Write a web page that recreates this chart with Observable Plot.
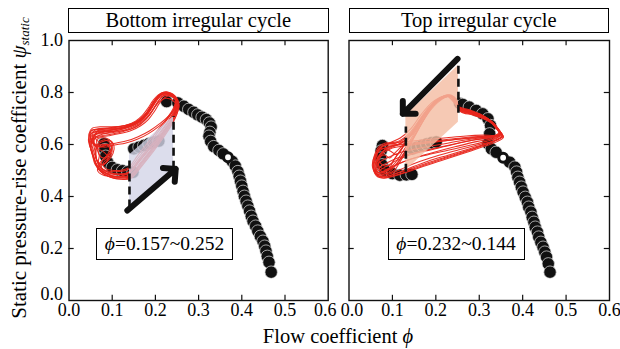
<!DOCTYPE html>
<html><head><meta charset="utf-8">
<script src="https://cdn.jsdelivr.net/npm/d3@7"></script>
<script src="https://cdn.jsdelivr.net/npm/@observablehq/plot@0.6"></script>
<style>
body{margin:0;background:#fff;}
#chart{position:relative;width:620px;height:349px;font-family:"Liberation Serif","Times New Roman",serif;color:#000;overflow:hidden;}
.pl{position:absolute;top:0;}
.pl svg, .pl svg text{font-family:"Liberation Serif","Times New Roman",serif !important;}
.box{position:absolute;border:1.5px solid #000;box-sizing:border-box;display:flex;align-items:center;justify-content:center;background:#fff;white-space:nowrap;line-height:1;}
.ttl{position:absolute;white-space:nowrap;line-height:1;}
</style></head><body><div id="chart"></div>
<script>
// ---------- data ----------
const xTicks = [0, 0.1, 0.2, 0.3, 0.4, 0.5, 0.6];
const yTicks = [0, 0.2, 0.4, 0.6, 0.8, 1.0];
const panelTitles = ["Bottom irregular cycle", "Top irregular cycle"];
const rangeLabels = ["0.157~0.252", "0.232~0.144"];
const xTitle = "Flow coefficient ";
const yTitle = "Static pressure-rise coefficient ";

// Bottom irregular cycle: characteristic curve (phi, psi)
const bottomCurve = [[0.226,0.765],[0.252,0.760],[0.266,0.747],[0.277,0.735],[0.289,0.724],[0.298,0.714],[0.308,0.705],[0.318,0.696],[0.325,0.683],[0.329,0.667],[0.326,0.647],[0.324,0.632],[0.328,0.612],[0.335,0.592],[0.347,0.577],[0.357,0.564],[0.378,0.535],[0.385,0.517],[0.391,0.496],[0.394,0.478],[0.397,0.459],[0.400,0.440],[0.403,0.420],[0.406,0.401],[0.410,0.382],[0.414,0.363],[0.418,0.344],[0.422,0.324],[0.426,0.305],[0.432,0.286],[0.437,0.267],[0.443,0.247],[0.449,0.228],[0.453,0.209],[0.456,0.190],[0.459,0.170],[0.463,0.147],[0.468,0.109]];
const bottomOpen = [[0.368,0.551]];
const bottomCluster = [[0.081,0.603],[0.083,0.580],[0.085,0.555],[0.090,0.530],[0.100,0.512],[0.112,0.503],[0.124,0.499],[0.136,0.495]];
const bottomInner = [[0.148,0.493],[0.150,0.583],[0.162,0.590],[0.173,0.596],[0.185,0.603],[0.196,0.609],[0.208,0.613]];
const bottomLoops = [
 [[0.140,0.492],[0.165,0.540],[0.190,0.590],[0.214,0.640],[0.235,0.690],[0.247,0.730],[0.250,0.765],[0.240,0.790],[0.224,0.798],[0.209,0.789],[0.197,0.766],[0.186,0.736],[0.173,0.707],[0.157,0.685],[0.134,0.668],[0.108,0.659],[0.082,0.654],[0.062,0.650],[0.054,0.640],[0.056,0.610],[0.060,0.575],[0.064,0.540],[0.074,0.510],[0.092,0.492],[0.116,0.486]],
 [[0.143,0.478],[0.168,0.525],[0.193,0.578],[0.216,0.630],[0.236,0.682],[0.249,0.724],[0.253,0.760],[0.244,0.788],[0.228,0.802],[0.212,0.796],[0.200,0.774],[0.189,0.744],[0.176,0.714],[0.160,0.692],[0.138,0.677],[0.112,0.668],[0.086,0.663],[0.064,0.660],[0.051,0.652],[0.049,0.622],[0.053,0.585],[0.058,0.548],[0.066,0.512],[0.082,0.484],[0.108,0.472],[0.128,0.472]],
 [[0.138,0.505],[0.162,0.553],[0.186,0.603],[0.208,0.652],[0.228,0.698],[0.242,0.735],[0.247,0.770],[0.236,0.792],[0.220,0.795],[0.206,0.783],[0.194,0.759],[0.182,0.728],[0.168,0.700],[0.150,0.680],[0.126,0.665],[0.100,0.655],[0.076,0.648],[0.060,0.640],[0.056,0.618],[0.062,0.596],[0.072,0.590],[0.086,0.602],[0.094,0.585],[0.088,0.558],[0.076,0.535],[0.076,0.510],[0.090,0.498],[0.114,0.496]],
 [[0.142,0.485],[0.166,0.532],[0.191,0.583],[0.213,0.634],[0.233,0.684],[0.246,0.726],[0.251,0.758],[0.243,0.785],[0.229,0.796],[0.214,0.791],[0.203,0.770],[0.192,0.741],[0.180,0.712],[0.165,0.688],[0.146,0.672],[0.122,0.662],[0.097,0.657],[0.072,0.656],[0.056,0.657],[0.048,0.645],[0.052,0.615],[0.062,0.590],[0.070,0.560],[0.068,0.530],[0.078,0.500],[0.098,0.480],[0.122,0.476]],
 [[0.088,0.600],[0.110,0.606],[0.136,0.615],[0.160,0.630],[0.186,0.652],[0.210,0.680],[0.232,0.712],[0.246,0.745],[0.248,0.775],[0.236,0.795],[0.220,0.800],[0.206,0.790],[0.194,0.768],[0.183,0.740],[0.170,0.712],[0.154,0.690],[0.132,0.674],[0.106,0.665],[0.080,0.660],[0.060,0.655],[0.050,0.635],[0.054,0.610],[0.066,0.598]],
 [[0.141,0.498],[0.164,0.548],[0.188,0.598],[0.211,0.648],[0.231,0.694],[0.244,0.732],[0.249,0.762],[0.238,0.784],[0.222,0.790],[0.208,0.778],[0.196,0.752],[0.184,0.722],[0.170,0.696],[0.152,0.677],[0.128,0.662],[0.102,0.650],[0.078,0.640],[0.062,0.628],[0.058,0.606],[0.066,0.585],[0.080,0.572],[0.090,0.550],[0.084,0.528],[0.072,0.520],[0.066,0.500],[0.080,0.482],[0.105,0.478],[0.128,0.482]],
 [[0.144,0.470],[0.170,0.520],[0.195,0.572],[0.218,0.625],[0.238,0.676],[0.250,0.718],[0.255,0.754],[0.247,0.784],[0.232,0.800],[0.216,0.799],[0.205,0.780],[0.194,0.750],[0.182,0.720],[0.167,0.697],[0.148,0.680],[0.124,0.671],[0.098,0.668],[0.072,0.668],[0.054,0.663],[0.046,0.640],[0.048,0.600],[0.054,0.560],[0.060,0.525],[0.074,0.495],[0.096,0.474],[0.122,0.466]],
 [[0.065,0.620],[0.085,0.625],[0.098,0.610],[0.100,0.585],[0.092,0.562],[0.080,0.548],[0.070,0.560],[0.066,0.590]],
 [[0.072,0.600],[0.090,0.596],[0.096,0.570],[0.090,0.540],[0.080,0.522],[0.068,0.530],[0.062,0.560],[0.064,0.590]],
 [[0.139,0.488],[0.163,0.536],[0.188,0.586],[0.212,0.637],[0.233,0.686],[0.245,0.724],[0.248,0.752],[0.238,0.772],[0.224,0.778],[0.210,0.766],[0.198,0.742],[0.186,0.712],[0.170,0.686],[0.150,0.664],[0.126,0.650],[0.100,0.640],[0.076,0.634],[0.058,0.628],[0.052,0.610],[0.056,0.580],[0.062,0.548],[0.070,0.518],[0.086,0.496],[0.110,0.486]],
 [[0.142,0.480],[0.167,0.528],[0.192,0.580],[0.215,0.632],[0.235,0.680],[0.247,0.720],[0.252,0.750],[0.246,0.778],[0.233,0.790],[0.218,0.786],[0.206,0.764],[0.194,0.733],[0.179,0.703],[0.160,0.678],[0.136,0.660],[0.110,0.648],[0.085,0.642],[0.062,0.640],[0.050,0.630],[0.048,0.600],[0.054,0.565],[0.062,0.530],[0.076,0.500],[0.100,0.480],[0.124,0.475]],
 [[0.137,0.510],[0.160,0.560],[0.184,0.610],[0.207,0.658],[0.227,0.702],[0.241,0.738],[0.246,0.768],[0.234,0.790],[0.218,0.793],[0.203,0.778],[0.191,0.752],[0.179,0.722],[0.164,0.697],[0.144,0.678],[0.118,0.664],[0.092,0.654],[0.068,0.644],[0.056,0.625],[0.060,0.600],[0.076,0.592],[0.092,0.600],[0.100,0.580],[0.094,0.552],[0.080,0.530],[0.084,0.508],[0.104,0.500],[0.124,0.502]],
 [[0.144,0.474],[0.169,0.522],[0.194,0.575],[0.217,0.628],[0.237,0.678],[0.249,0.716],[0.254,0.748],[0.248,0.775],[0.236,0.786],[0.222,0.781],[0.210,0.760],[0.198,0.728],[0.184,0.697],[0.166,0.672],[0.144,0.654],[0.118,0.642],[0.092,0.634],[0.068,0.628],[0.054,0.618],[0.050,0.590],[0.056,0.552],[0.064,0.516],[0.080,0.488],[0.104,0.470],[0.128,0.468]],
 [[0.140,0.495],[0.164,0.544],[0.189,0.594],[0.212,0.644],[0.232,0.692],[0.245,0.730],[0.250,0.762],[0.242,0.788],[0.227,0.799],[0.211,0.792],[0.199,0.770],[0.188,0.740],[0.175,0.710],[0.158,0.686],[0.136,0.670],[0.110,0.662],[0.086,0.660],[0.066,0.652],[0.060,0.630],[0.068,0.612],[0.082,0.618],[0.096,0.604],[0.098,0.575],[0.086,0.548],[0.072,0.532],[0.070,0.508],[0.086,0.490],[0.112,0.485]],
 [[0.143,0.482],[0.168,0.530],[0.192,0.582],[0.214,0.633],[0.234,0.684],[0.247,0.725],[0.252,0.758],[0.244,0.784],[0.230,0.792],[0.216,0.784],[0.204,0.760],[0.193,0.730],[0.180,0.700],[0.164,0.676],[0.143,0.660],[0.118,0.652],[0.094,0.650],[0.070,0.650],[0.052,0.644],[0.045,0.620],[0.050,0.585],[0.058,0.550],[0.064,0.520],[0.078,0.494],[0.100,0.478],[0.126,0.474]],
 [[0.080,0.590],[0.105,0.598],[0.132,0.606],[0.158,0.620],[0.184,0.642],[0.208,0.670],[0.230,0.703],[0.244,0.738],[0.247,0.770],[0.236,0.790],[0.221,0.794],[0.207,0.782],[0.196,0.758],[0.185,0.728],[0.171,0.700],[0.154,0.678],[0.130,0.662],[0.104,0.652],[0.078,0.646],[0.060,0.640],[0.052,0.622],[0.058,0.598]],
 [[0.075,0.610],[0.094,0.616],[0.104,0.596],[0.102,0.566],[0.092,0.540],[0.078,0.522],[0.066,0.535],[0.062,0.570],[0.066,0.600]]
];
const bottomShade = [[0.140,0.356,0.560],[0.242,0.505,0.708]];
const bottomDashes = [[0.140,0.356,0.538],[0.242,0.505,0.708]];
const bottomArrow = [[0.135,0.346],[0.247,0.506]];

// Top irregular cycle
const topCurve = [[0.255,0.758],[0.262,0.754],[0.277,0.744],[0.293,0.731],[0.308,0.718],[0.320,0.699],[0.326,0.673],[0.324,0.641],[0.320,0.603],[0.328,0.583],[0.339,0.570],[0.370,0.532],[0.382,0.513],[0.386,0.494],[0.389,0.474],[0.393,0.455],[0.397,0.436],[0.401,0.417],[0.406,0.397],[0.411,0.378],[0.414,0.359],[0.419,0.340],[0.422,0.320],[0.426,0.301],[0.429,0.282],[0.434,0.263],[0.437,0.244],[0.442,0.224],[0.447,0.205],[0.451,0.186],[0.455,0.167],[0.459,0.141],[0.463,0.109]];
const topOpen = [[0.355,0.549]];
const topCluster = [[0.077,0.596],[0.074,0.575],[0.073,0.548],[0.076,0.522],[0.083,0.500],[0.100,0.488],[0.117,0.482],[0.132,0.483],[0.145,0.485]];
const topInner = [[0.146,0.583],[0.157,0.590],[0.168,0.596],[0.179,0.602],[0.190,0.607],[0.201,0.610]];
const topLoops = [
 [[0.254,0.740],[0.280,0.726],[0.305,0.709],[0.325,0.689],[0.339,0.664],[0.348,0.640],[0.338,0.630],[0.305,0.627],[0.265,0.622],[0.220,0.614],[0.172,0.606],[0.132,0.600],[0.100,0.594],[0.078,0.574],[0.066,0.545],[0.066,0.512],[0.080,0.496],[0.100,0.510],[0.120,0.550],[0.140,0.600],[0.160,0.660],[0.180,0.718],[0.200,0.764],[0.222,0.786],[0.243,0.780]],
 [[0.256,0.730],[0.283,0.716],[0.310,0.700],[0.330,0.680],[0.343,0.655],[0.352,0.632],[0.338,0.615],[0.300,0.600],[0.250,0.578],[0.200,0.555],[0.155,0.530],[0.120,0.505],[0.090,0.485],[0.070,0.483],[0.058,0.500],[0.060,0.540],[0.070,0.575],[0.090,0.592],[0.115,0.602],[0.140,0.632],[0.163,0.682],[0.185,0.736],[0.205,0.772],[0.228,0.790],[0.246,0.774]],
 [[0.253,0.742],[0.278,0.730],[0.303,0.713],[0.322,0.694],[0.336,0.668],[0.346,0.642],[0.330,0.630],[0.290,0.618],[0.240,0.600],[0.190,0.580],[0.140,0.560],[0.105,0.535],[0.080,0.510],[0.062,0.497],[0.055,0.520],[0.060,0.560],[0.075,0.585],[0.095,0.575],[0.110,0.560],[0.128,0.600],[0.150,0.655],[0.172,0.710],[0.195,0.755],[0.215,0.780],[0.238,0.785]],
 [[0.255,0.735],[0.285,0.720],[0.312,0.703],[0.333,0.682],[0.345,0.657],[0.355,0.630],[0.345,0.622],[0.320,0.605],[0.280,0.585],[0.230,0.560],[0.180,0.535],[0.140,0.510],[0.110,0.490],[0.085,0.478],[0.068,0.480],[0.060,0.505],[0.065,0.545],[0.080,0.575],[0.100,0.590],[0.125,0.610],[0.150,0.645],[0.170,0.690],[0.190,0.745],[0.212,0.780],[0.235,0.790]],
 [[0.254,0.738],[0.282,0.726],[0.308,0.710],[0.328,0.690],[0.342,0.664],[0.350,0.640],[0.335,0.632],[0.300,0.625],[0.260,0.615],[0.210,0.600],[0.160,0.585],[0.120,0.570],[0.090,0.550],[0.070,0.530],[0.063,0.505],[0.070,0.490],[0.090,0.500],[0.100,0.530],[0.115,0.570],[0.135,0.620],[0.158,0.680],[0.180,0.730],[0.200,0.762],[0.220,0.782],[0.240,0.780]],
 [[0.256,0.732],[0.284,0.718],[0.310,0.702],[0.331,0.682],[0.344,0.658],[0.353,0.634],[0.340,0.618],[0.305,0.595],[0.260,0.570],[0.210,0.545],[0.165,0.520],[0.130,0.500],[0.100,0.483],[0.078,0.476],[0.062,0.485],[0.057,0.520],[0.063,0.560],[0.078,0.595],[0.098,0.610],[0.118,0.625],[0.142,0.660],[0.166,0.715],[0.190,0.760],[0.215,0.785],[0.240,0.782]],
 [[0.255,0.736],[0.281,0.722],[0.307,0.706],[0.327,0.686],[0.341,0.660],[0.351,0.636],[0.336,0.624],[0.296,0.612],[0.246,0.592],[0.196,0.570],[0.150,0.548],[0.114,0.525],[0.086,0.500],[0.068,0.490],[0.060,0.510],[0.066,0.545],[0.082,0.560],[0.094,0.548],[0.104,0.565],[0.122,0.595],[0.146,0.640],[0.170,0.700],[0.192,0.750],[0.212,0.775],[0.236,0.786]],
 [[0.254,0.739],[0.279,0.727],[0.304,0.711],[0.324,0.691],[0.338,0.666],[0.347,0.643],[0.340,0.634],[0.315,0.632],[0.275,0.628],[0.230,0.620],[0.185,0.612],[0.145,0.606],[0.112,0.600],[0.088,0.598],[0.072,0.590],[0.064,0.565],[0.068,0.540],[0.078,0.520],[0.094,0.520],[0.106,0.548],[0.124,0.590],[0.146,0.648],[0.168,0.706],[0.190,0.752],[0.212,0.778],[0.234,0.784]],
 [[0.253,0.745],[0.277,0.734],[0.302,0.717],[0.321,0.698],[0.335,0.672],[0.345,0.646],[0.336,0.636],[0.310,0.636],[0.270,0.633],[0.225,0.626],[0.178,0.618],[0.138,0.612],[0.104,0.606],[0.080,0.596],[0.066,0.575],[0.062,0.545],[0.070,0.515],[0.088,0.505],[0.104,0.525],[0.122,0.568],[0.144,0.625],[0.166,0.688],[0.188,0.742],[0.210,0.774],[0.232,0.788]],
 [[0.256,0.728],[0.285,0.713],[0.312,0.697],[0.333,0.677],[0.346,0.652],[0.356,0.628],[0.342,0.612],[0.310,0.592],[0.268,0.568],[0.220,0.542],[0.172,0.516],[0.134,0.494],[0.104,0.478],[0.080,0.470],[0.064,0.478],[0.056,0.510],[0.060,0.552],[0.072,0.586],[0.092,0.604],[0.116,0.614],[0.140,0.645],[0.162,0.695],[0.186,0.748],[0.210,0.780],[0.236,0.788]],
 [[0.255,0.737],[0.282,0.723],[0.308,0.707],[0.329,0.687],[0.342,0.661],[0.350,0.638],[0.336,0.628],[0.298,0.620],[0.252,0.606],[0.204,0.588],[0.158,0.570],[0.118,0.552],[0.088,0.530],[0.068,0.508],[0.060,0.492],[0.072,0.484],[0.092,0.494],[0.108,0.520],[0.124,0.560],[0.142,0.612],[0.164,0.672],[0.186,0.728],[0.206,0.764],[0.226,0.784],[0.244,0.778]],
 [[0.254,0.741],[0.280,0.728],[0.306,0.712],[0.326,0.692],[0.340,0.667],[0.349,0.642],[0.342,0.626],[0.316,0.612],[0.276,0.596],[0.228,0.578],[0.180,0.560],[0.136,0.540],[0.100,0.515],[0.076,0.495],[0.062,0.490],[0.054,0.515],[0.058,0.555],[0.068,0.590],[0.084,0.606],[0.106,0.604],[0.130,0.624],[0.154,0.668],[0.178,0.724],[0.200,0.766],[0.224,0.788]],
 [[0.256,0.733],[0.283,0.719],[0.309,0.703],[0.330,0.683],[0.344,0.658],[0.354,0.633],[0.344,0.620],[0.318,0.602],[0.282,0.580],[0.238,0.556],[0.190,0.530],[0.148,0.506],[0.116,0.486],[0.090,0.474],[0.072,0.474],[0.062,0.492],[0.064,0.530],[0.074,0.566],[0.090,0.590],[0.112,0.598],[0.134,0.622],[0.156,0.666],[0.178,0.722],[0.202,0.768],[0.228,0.790]],
 [[0.254,0.742],[0.279,0.730],[0.304,0.714],[0.324,0.694],[0.338,0.668],[0.347,0.644],[0.337,0.634],[0.304,0.630],[0.258,0.622],[0.210,0.612],[0.164,0.602],[0.126,0.594],[0.096,0.584],[0.076,0.562],[0.068,0.530],[0.072,0.500],[0.086,0.488],[0.104,0.500],[0.118,0.535],[0.136,0.585],[0.156,0.645],[0.176,0.705],[0.198,0.756],[0.220,0.782],[0.242,0.784]]
];
const topShade = [[0.131,0.500,0.712],[0.252,0.686,0.904]];
const topDashes = [[0.131,0.493,0.667],[0.252,0.720,0.904]];
const topArrow = [[0.250,0.929],[0.124,0.718]];

// ---------- drawing ----------
const FONT = "Liberation Serif, Times New Roman, serif";
const dotOpts = {x: d => d[0], y: d => d[1], r: 6.2, fill: "#111", stroke: "#e4e4e4", strokeWidth: 0.7};
const axisText = {tickSize: 0, fontSize: 18, fontFamily: FONT, label: null, tickFormat: d => d.toFixed(1)};

function panel(cfg) {
  const loopRows = cfg.loops.flatMap((loop, k) => loop.map(([x, y]) => ({x, y, k})));
  const marks = [
    Plot.dot(cfg.cluster, dotOpts),
    Plot.dot(cfg.inner, dotOpts),
    Plot.dot(cfg.curve, dotOpts),
    Plot.dot(cfg.open, {x: d => d[0], y: d => d[1], r: 4.4, fill: "white", stroke: "#111", strokeWidth: 3}),
    Plot.line(loopRows, {x: "x", y: "y", z: "k", curve: "catmull-rom-closed", stroke: "#e8261c", strokeWidth: 1.05, strokeOpacity: 0.95}),
    Plot.areaY(cfg.shade, {x: d => d[0], y1: d => d[1], y2: d => d[2], fill: cfg.shadeFill, fillOpacity: cfg.shadeOpacity}),
    Plot.ruleX(cfg.dashes, {x: d => d[0], y1: d => d[1], y2: d => d[2], stroke: "#111", strokeWidth: 2.6, strokeDasharray: "8,5"}),
    Plot.arrow([cfg.arrow], {x1: d => d[0][0], y1: d => d[0][1], x2: d => d[1][0], y2: d => d[1][1], stroke: "#111", strokeWidth: 6, headLength: 3.2, headAngle: 90}),
    Plot.ruleX(xTicks.slice(1, -1), {x: d => d, y1: 0, y2: 0.02, stroke: "#111", strokeWidth: 1.2}),
    Plot.ruleX(xTicks.slice(1, -1), {x: d => d, y1: 0.98, y2: 1, stroke: "#111", strokeWidth: 1.2}),
    Plot.ruleY(yTicks.slice(1, -1), {y: d => d, x1: 0, x2: 0.012, stroke: "#111", strokeWidth: 1.2}),
    Plot.ruleY(yTicks.slice(1, -1), {y: d => d, x1: 0.588, x2: 0.6, stroke: "#111", strokeWidth: 1.2}),
    Plot.frame({stroke: "#111", strokeWidth: 1.4}),
    Plot.axisX(cfg.mainX, {...axisText, tickPadding: 3}),
    Plot.axisX(cfg.edgeX, {...axisText, tickPadding: 3, dx: cfg.edgeDx})
  ];
  if (cfg.yAxis) {
    marks.push(Plot.axisY(yTicks.slice(1), {...axisText, tickPadding: 6}));
    marks.push(Plot.axisY([0], {...axisText, tickPadding: 6, dy: -6}));
  } else {
    marks.push(Plot.axisY([], {tickSize: 0, label: null}));
  }
  return Plot.plot({
    width: cfg.width, height: 349,
    marginLeft: cfg.marginLeft, marginRight: cfg.marginRight, marginTop: 40, marginBottom: 49,
    x: {domain: [0, 0.6]}, y: {domain: [0, 1]},
    style: {fontFamily: FONT, fontSize: "18px", background: "transparent", overflow: "visible", color: "#000"},
    marks
  });
}

const chart = document.getElementById("chart");
function place(node, left) {
  const d = document.createElement("div");
  d.className = "pl"; d.style.left = left + "px";
  d.appendChild(node); chart.appendChild(d);
}
place(panel({width: 338, marginLeft: 68.5, marginRight: 10.3, curve: bottomCurve, open: bottomOpen, cluster: bottomCluster, inner: bottomInner, loops: bottomLoops, shade: bottomShade, shadeFill: "#d3d4e7", shadeOpacity: 0.8, dashes: bottomDashes, arrow: bottomArrow, yAxis: true, mainX: xTicks.slice(0, 6), edgeX: [0.6], edgeDx: -3}), 0);
place(panel({width: 282, marginLeft: 10.5, marginRight: 11, curve: topCurve, open: topOpen, cluster: topCluster, inner: topInner, loops: topLoops, shade: topShade, shadeFill: "#f4bda3", shadeOpacity: 0.82, dashes: topDashes, arrow: topArrow, yAxis: false, mainX: xTicks.slice(1), edgeX: [0], edgeDx: 3}), 338);

function addBox(html, left, top, w, h, fs) {
  const b = document.createElement("div");
  b.className = "box";
  Object.assign(b.style, {left: left + "px", top: top + "px", width: w + "px", height: h + "px", fontSize: fs + "px"});
  b.innerHTML = html; chart.appendChild(b);
}
addBox(panelTitles[0], 68, 8, 260.5, 25, 20.5);
addBox(panelTitles[1], 348.5, 8, 260.5, 25, 20.5);
addBox("<i>ϕ</i>=" + rangeLabels[0], 96, 228, 137, 32, 19.5);
addBox("<i>ϕ</i>=" + rangeLabels[1], 387.5, 228, 137, 32, 19.5);

const xt = document.createElement("div");
xt.className = "ttl";
xt.innerHTML = xTitle + "<i>ϕ</i>";
Object.assign(xt.style, {left: "338px", top: "336px", fontSize: "20.5px", transform: "translate(-50%,-50%)"});
chart.appendChild(xt);

const yt = document.createElement("div");
yt.className = "ttl";
yt.innerHTML = yTitle + "<i>ψ</i><sub style=\"font-size:0.62em;vertical-align:-0.25em\"><i>static</i></sub>";
Object.assign(yt.style, {left: "20px", top: "168px", fontSize: "21px", transform: "translate(-50%,-50%) rotate(-90deg)"});
chart.appendChild(yt);
</script></body></html>
